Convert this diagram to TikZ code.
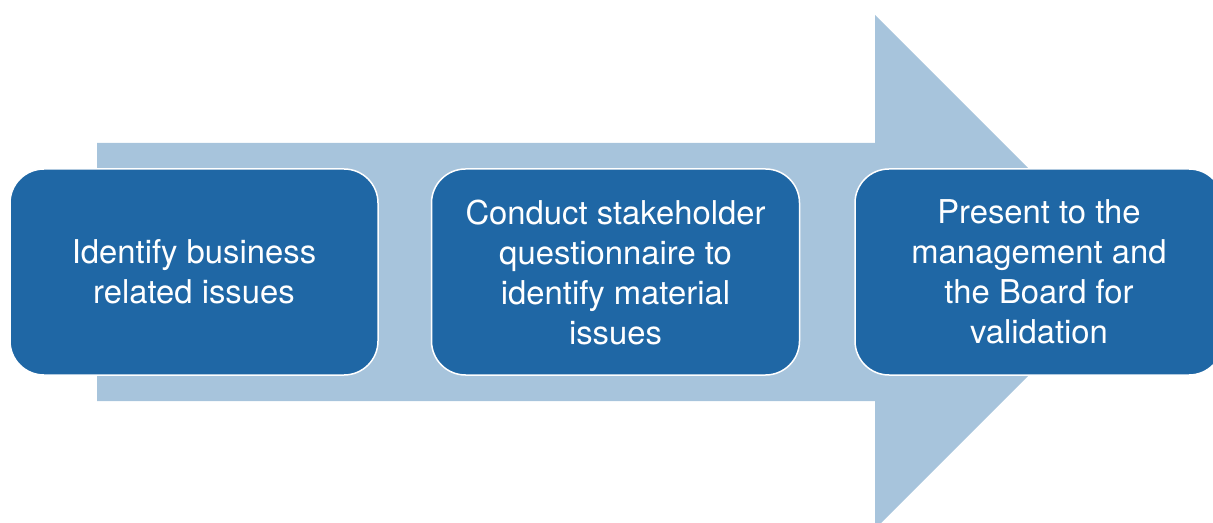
\documentclass[tikz,border=0pt]{standalone}
\usepackage{fontspec}
\setmainfont{TeX Gyre Heros}
\usepackage{tikz}
\usetikzlibrary{positioning}
\definecolor{stepblue}{HTML}{1F67A5}
\definecolor{flowblue}{HTML}{A7C4DC}
\tikzset{
	stepbox/.style={draw=white, line width=0.75pt, fill=stepblue, text=white,
		rounded corners=17pt, minimum width=184pt, minimum height=103pt,
		inner sep=0pt, align=center, font=\fontsize{16.4}{20}\selectfont}
}
\begin{document}
\begin{tikzpicture}[x=0.5pt, y=-0.5pt]
		\useasboundingbox (0,0) rectangle (1213,523);
		\clip (0,0) rectangle (1213,523);
		% big arrow behind the steps
		\fill[flowblue] (97,143) -- (875,143) -- (875,15) -- (1132,272)
		-- (875,529) -- (875,401) -- (97,401) -- cycle;
		\node[stepbox] (identify) at (194,272) {Identify business\\related issues};
		\node[stepbox, right=26pt of identify] (survey) {Conduct stakeholder\\questionnaire to\\identify material\\issues};
		\node[stepbox, right=27pt of survey] (present) {Present to the\\management and\\the Board for\\validation};
\end{tikzpicture}
\end{document}
